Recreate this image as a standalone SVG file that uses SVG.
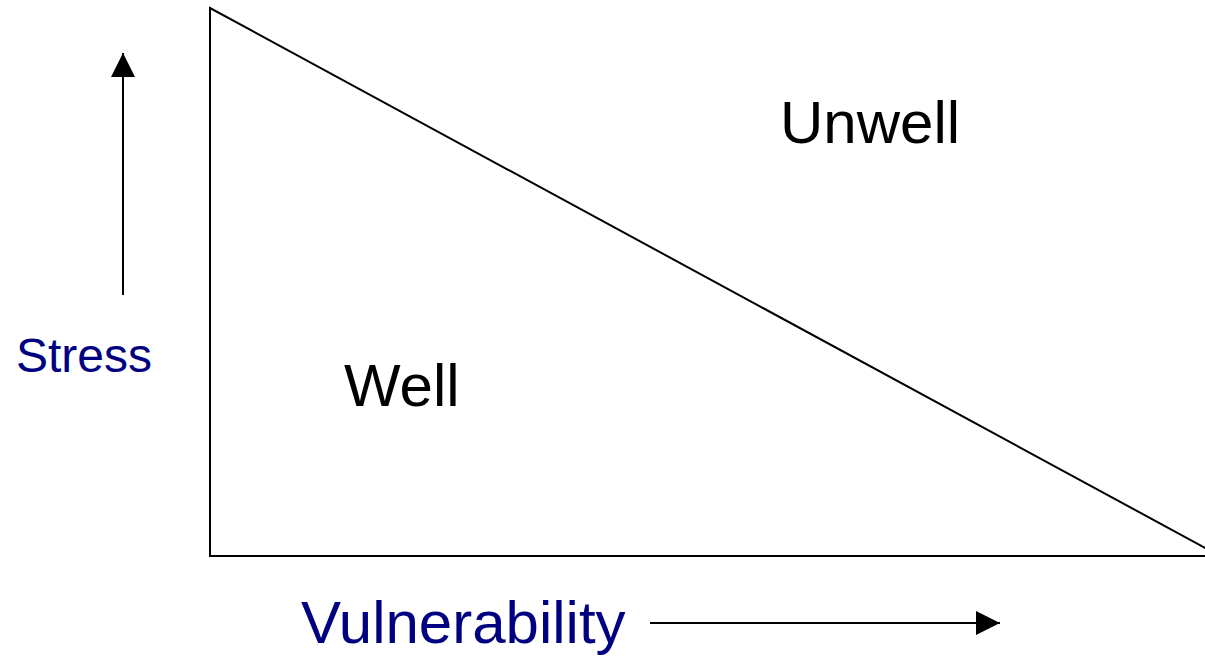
<svg xmlns="http://www.w3.org/2000/svg" width="1205" height="657" viewBox="0 0 1205 657">
  <style>
    .edge { fill: none; stroke: #000; stroke-width: 2; }
    .label { font-family: "Liberation Sans", Arial, sans-serif; }
    .axis { fill: #000080; }
    .zone { fill: #000; }
  </style>
  <defs>
    <marker id="arrow" viewBox="0 0 12 12" refX="11" refY="6" markerWidth="12" markerHeight="12" markerUnits="userSpaceOnUse" orient="auto">
      <path d="M0,0 L12,6 L0,12 Z" fill="#000"/>
    </marker>
    <marker id="arrowBig" viewBox="0 0 24 24" refX="24" refY="12" markerWidth="24" markerHeight="24" markerUnits="userSpaceOnUse" orient="auto">
      <path d="M0,0 L24,12 L0,24 Z" fill="#000"/>
    </marker>
  </defs>
  <rect width="1205" height="657" fill="#fff"/>

  <!-- boundary between the two regions -->
  <g id="triangle">
    <path class="edge" d="M210,8 L210,556 L1220,556 Z" stroke-linejoin="miter"/>
  </g>

  <g id="connectors">
    <line class="edge" x1="123" y1="295" x2="123" y2="53" marker-end="url(#arrowBig)"/>
    <line class="edge" x1="650" y1="623" x2="1000" y2="623" marker-end="url(#arrowBig)"/>
  </g>

  <g id="stress">
    <text class="label axis" x="16" y="372" font-size="48">Stress</text>
  </g>
  <g id="vulnerability">
    <text class="label axis" x="301" y="643" font-size="60">Vulnerability</text>
  </g>
  <g id="well">
    <text class="label zone" x="344" y="406" font-size="60">Well</text>
  </g>
  <g id="unwell">
    <text class="label zone" x="780" y="143" font-size="60">Unwell</text>
  </g>
</svg>
